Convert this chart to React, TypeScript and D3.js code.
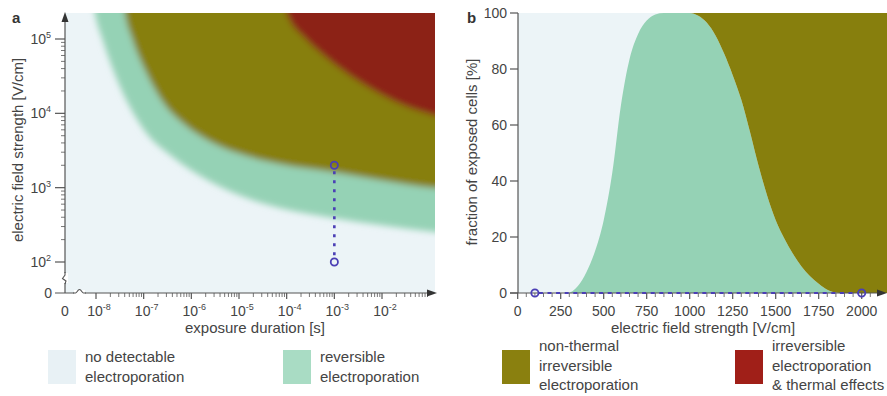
import React, { useEffect } from 'react';
import * as d3 from 'd3';

const W = 887;
const H = 396;

// ---------- panel a: exposure duration vs field strength ----------
const durationDecades = [1e-8, 1e-7, 1e-6, 1e-5, 1e-4, 1e-3, 1e-2];
const durationExp = ['-8', '-7', '-6', '-5', '-4', '-3', '-2'];
const fieldDecades = [1e2, 1e3, 1e4, 1e5];
const fieldExp = ['2', '3', '4', '5'];

// lower edge of the green band (onset of reversible electroporation)
const reversibleDuration = [8.6e-9, 9.5e-9, 1.34e-8, 2.39e-8, 4.9e-8, 1.23e-7, 3.6e-7, 2.84e-6, 1.47e-5, 7.2e-5, 9.4e-4, 9.1e-3, 0.129, 0.21];
const reversibleField = [3.35e5, 2.24e5, 1.03e5, 3.6e4, 1.29e4, 5.1e3, 2.75e3, 1.16e3, 726, 532, 391, 315, 254, 246];

// upper edge of the green band (onset of irreversible electroporation)
const irreversibleDuration = [3.7e-8, 4.05e-8, 5.7e-8, 1.12e-7, 2.8e-7, 7.4e-7, 2.84e-6, 1.47e-5, 7.2e-5, 9.4e-4, 9.1e-3, 0.129, 0.21];
const irreversibleField = [3.35e5, 2.24e5, 1.03e5, 3.6e4, 1.29e4, 6.97e3, 3.99e3, 2.67e3, 2.08e3, 1.63e3, 1.27e3, 990, 960];

// onset of thermal effects (red region)
const thermalDuration = [8.4e-5, 1.0e-4, 2.42e-4, 5.8e-4, 1.67e-3, 5.6e-3, 2.75e-2, 0.117, 0.21];
const thermalField = [3.35e5, 2.24e5, 1.02e5, 6.1e4, 3.6e4, 2.17e4, 1.29e4, 9.5e3, 8.6e3];

// pulse sweep marked in panel a
const sweepDuration = 1e-3;
const sweepFieldA = [2000, 100];

// ---------- panel b: fraction of cells vs field strength ----------
const fieldStrength = [0, 100, 200, 290, 350, 400, 450, 500, 550, 600, 650, 700, 750, 800, 850, 900, 950, 1000, 1050, 1100, 1150, 1200, 1250, 1300, 1350, 1400, 1450, 1500, 1550, 1600, 1650, 1700, 1750, 1800, 1850, 1900, 2000, 2150];
const reversibleShare = [0, 0, 0, 0, 2.5, 7.5, 15, 26, 43, 67, 83.5, 92.5, 97.3, 99.5, 100, 100, 100, 100, 99, 96.5, 92, 85.5, 77.8, 69, 57.7, 45.5, 34.8, 26, 19.5, 14, 9.5, 6, 3.3, 1.2, 0.2, 0, 0, 0];
const irreversibleShare = [0, 0, 0, 0, 0, 0, 0, 0, 0, 0, 0, 0, 0, 0, 0, 0, 0, 0, 1, 3.5, 8, 14.5, 22.2, 31, 42.3, 54.5, 65.2, 74, 80.5, 86, 90.5, 94, 96.7, 98.8, 99.8, 100, 100, 100];
const fieldTicksB = [0, 250, 500, 750, 1000, 1250, 1500, 1750, 2000];
const fractionTicks = [0, 20, 40, 60, 80, 100];
const sweepFieldB = [100, 2000];

// ---------- legend ----------
const legendLabels = [
  ['no detectable', 'electroporation'],
  ['reversible', 'electroporation'],
  ['non-thermal', 'irreversible', 'electroporation'],
  ['irreversible', 'electroporation', '& thermal effects'],
];

const C_NONE = '#ecf4f7';
const C_REV = '#95d2b5';
const C_IRR = '#877f0d';
const C_HOT = '#8c2219';
const legendColors = ['#e8f1f5', '#a9dcc4', '#8a800f', '#a01f18'];
const C_MARK = '#4b3fb5';
const C_AXIS = '#555';
const C_TEXT = '#444';

// plot frames
const A = { left: 65, right: 435, top: 13, bottom: 293 };
const B = { left: 518, right: 887, top: 13, bottom: 293 };

const xA = d3.scaleLog().domain([1e-8, 1e-2]).range([96, 382]);
const yA = d3.scaleLog().domain([1e2, 1e5]).range([262, 39]);
const xB = d3.scaleLinear().domain([0, 2000]).range([517.7, 861.7]);
const yB = d3.scaleLinear().domain([0, 100]).range([B.bottom, B.top]);

const regionPath = (ts: number[], es: number[]) =>
  d3.area<number>()
    .x(i => xA(ts[i]))
    .y0(0)
    .y1(i => yA(es[i]))
    .curve(d3.curveMonotoneX)(ts.map((_, i) => i)) as string;

export default function App() {
  useEffect(() => {
    document.body.style.margin = '0';
  }, []);

  const fontFamily = "'Liberation Sans', Arial, sans-serif";

  // minor ticks on the log axes
  const xMinor = xA.copy().domain([1e-8, 0.13]).ticks()
    .filter(t => !durationDecades.some(d => Math.abs(d - t) / d < 1e-6) && xA(t) < 428);
  const yMinor = yA.copy().domain([100, 2.3e5]).ticks()
    .filter(v => !fieldDecades.some(d => Math.abs(d - v) / d < 1e-6) && yA(v) > 22);

  // panel b stacked layers
  const rows = fieldStrength.map((e, i) => ({ e, rev: reversibleShare[i], irr: irreversibleShare[i] }));
  const stacked = d3.stack<any>().keys(['rev', 'irr'])(rows);
  const areaB = d3.area<any>()
    .x(d => xB(d.data.e))
    .y0(d => yB(d[0]))
    .y1(d => yB(d[1]))
    .curve(d3.curveMonotoneX);
  const xMinorB = d3.range(0, 2151, 50).filter(v => v % 250 !== 0 && xB(v) < 876);

  return (
    <svg width={W} height={H} style={{ display: 'block' }} fontFamily={fontFamily}>
      <defs>
        <clipPath id="clipA">
          <rect x={A.left} y={A.top} width={A.right - A.left} height={A.bottom - A.top} />
        </clipPath>
        <clipPath id="clipB">
          <rect x={B.left} y={B.top} width={B.right - B.left} height={B.bottom - B.top} />
        </clipPath>
        <filter id="soft" filterUnits="userSpaceOnUse" x={0} y={-50} width={520} height={400}>
          <feGaussianBlur stdDeviation={3} />
        </filter>
      </defs>

      {/* ================= panel a ================= */}
      <g clipPath="url(#clipA)">
        <rect x={A.left} y={A.top} width={A.right - A.left} height={A.bottom - A.top} fill={C_NONE} />
        <g filter="url(#soft)">
          <path d={regionPath(reversibleDuration, reversibleField)} fill={C_REV} />
          <path d={regionPath(irreversibleDuration, irreversibleField)} fill={C_IRR} />
          <path d={regionPath(thermalDuration, thermalField)} fill={C_HOT} />
        </g>
      </g>

      {/* sweep marker */}
      <line x1={xA(sweepDuration)} x2={xA(sweepDuration)} y1={yA(sweepFieldA[0]) + 6} y2={yA(sweepFieldA[1]) - 5}
        stroke={C_MARK} strokeWidth={2.6} strokeDasharray="3 6" />
      {sweepFieldA.map(v => (
        <circle key={v} cx={xA(sweepDuration)} cy={yA(v)} r={3.6} fill="none" stroke={C_MARK} strokeWidth={1.8} />
      ))}

      {/* axes a */}
      <g stroke={C_AXIS} strokeWidth={1.2} fill="none">
        <line x1={A.left} x2={A.left} y1={A.bottom} y2={20} />
        <line x1={55} x2={428} y1={A.bottom} y2={A.bottom} />
        {fieldDecades.map(v => <line key={v} x1={55} x2={A.left} y1={yA(v)} y2={yA(v)} />)}
        {yMinor.map(v => <line key={v} x1={61} x2={A.left} y1={yA(v)} y2={yA(v)} strokeWidth={0.8} />)}
        {durationDecades.map(t => <line key={t} x1={xA(t)} x2={xA(t)} y1={A.bottom} y2={A.bottom + 6} />)}
        {xMinor.map(t => <line key={t} x1={xA(t)} x2={xA(t)} y1={A.bottom} y2={A.bottom + 4} strokeWidth={0.8} />)}
      </g>
      {/* axis breaks */}
      <rect x={62} y={273} width={6} height={10} fill="#fff" />
      <path d="M65,272 L65,275 L62.5,278.5 L66,281 L65,284" stroke={C_AXIS} strokeWidth={1.1} fill="none" />
      <rect x={74} y={290} width={11} height={6} fill="#fff" />
      <path d="M73,293 L75.5,293 C77,293 77.5,289.5 79.5,289.5 C81.5,289.5 82,293 83.5,293 L86,293" stroke={C_AXIS} strokeWidth={1.1} fill="none" />
      {/* arrows */}
      <polygon points={`${A.left},12 ${A.left - 3.5},22 ${A.left + 3.5},22`} fill="#333" />
      <polygon points={`437,${A.bottom} 427,${A.bottom - 3.5} 427,${A.bottom + 3.5}`} fill="#333" />

      {/* tick labels a */}
      <g fill={C_TEXT} fontSize={14}>
        {fieldDecades.map((v, i) => (
          <text key={v} x={51} y={yA(v) + 5} textAnchor="end">
            10<tspan fontSize={9} dy={-6}>{fieldExp[i]}</tspan>
          </text>
        ))}
        <text x={52} y={A.bottom + 5} textAnchor="end">0</text>
        <text x={A.left} y={316} textAnchor="middle">0</text>
        {durationDecades.map((t, i) => (
          <text key={t} x={xA(t) + 3} y={316} textAnchor="middle">
            10<tspan fontSize={9} dy={-6}>{durationExp[i]}</tspan>
          </text>
        ))}
      </g>
      <text x={255} y={333} fontSize={15} fill={C_TEXT} textAnchor="middle">exposure duration [s]</text>
      <text transform="translate(23,150) rotate(-90)" fontSize={15} fill={C_TEXT} textAnchor="middle">electric field strength [V/cm]</text>
      <text x={12} y={23} fontSize={15} fontWeight="bold" fill="#333">a</text>

      {/* ================= panel b ================= */}
      <g clipPath="url(#clipB)">
        <rect x={B.left} y={B.top} width={B.right - B.left} height={B.bottom - B.top} fill={C_NONE} />
        <path d={areaB(stacked[0]) as string} fill={C_REV} />
        <path d={areaB(stacked[1]) as string} fill={C_IRR} />
      </g>

      <g stroke={C_AXIS} strokeWidth={1.2} fill="none">
        <line x1={B.left} x2={B.left} y1={B.bottom} y2={B.top} />
        <line x1={B.left - 8} x2={878} y1={B.bottom} y2={B.bottom} />
        {fractionTicks.map(v => <line key={v} x1={B.left - 8} x2={B.left} y1={yB(v)} y2={yB(v)} />)}
        {fieldTicksB.map(v => <line key={v} x1={xB(v)} x2={xB(v)} y1={B.bottom} y2={B.bottom + 6} />)}
        {xMinorB.map(v => <line key={v} x1={xB(v)} x2={xB(v)} y1={B.bottom} y2={B.bottom + 4} strokeWidth={0.8} />)}
      </g>
      <polygon points={`887,${B.bottom} 877,${B.bottom - 3.5} 877,${B.bottom + 3.5}`} fill="#333" />

      {/* sweep marker b */}
      <line x1={xB(sweepFieldB[0]) + 4} x2={xB(sweepFieldB[1]) - 4} y1={B.bottom} y2={B.bottom}
        stroke={C_MARK} strokeWidth={2} strokeDasharray="4 4.6" />
      {sweepFieldB.map(v => (
        <circle key={v} cx={xB(v)} cy={B.bottom} r={3.6} fill="none" stroke={C_MARK} strokeWidth={1.8} />
      ))}

      <g fill={C_TEXT} fontSize={14}>
        {fractionTicks.map(v => (
          <text key={v} x={B.left - 11} y={yB(v) + 5} textAnchor="end">{v}</text>
        ))}
        {fieldTicksB.map(v => (
          <text key={v} x={xB(v)} y={316} textAnchor="middle">{v}</text>
        ))}
      </g>
      <text x={703} y={333} fontSize={15} fill={C_TEXT} textAnchor="middle">electric field strength [V/cm]</text>
      <text transform="translate(477,152) rotate(-90)" fontSize={15} fill={C_TEXT} textAnchor="middle">fraction of exposed cells [%]</text>
      <text x={467} y={23} fontSize={15} fontWeight="bold" fill="#333">b</text>

      {/* ================= legend ================= */}
      {legendLabels.map((lines, i) => {
        const sx = [48, 283, 502, 735][i];
        const first = lines.length === 2 ? 362 : 351;
        return (
          <g key={i}>
            <rect x={sx} y={350} width={28} height={34} fill={legendColors[i]} />
            <text x={sx + 37} fontSize={15} fill={C_TEXT}>
              {lines.map((l, j) => (
                <tspan key={j} x={sx + 37} y={first + j * 19.5}>{l}</tspan>
              ))}
            </text>
          </g>
        );
      })}
    </svg>
  );
}
